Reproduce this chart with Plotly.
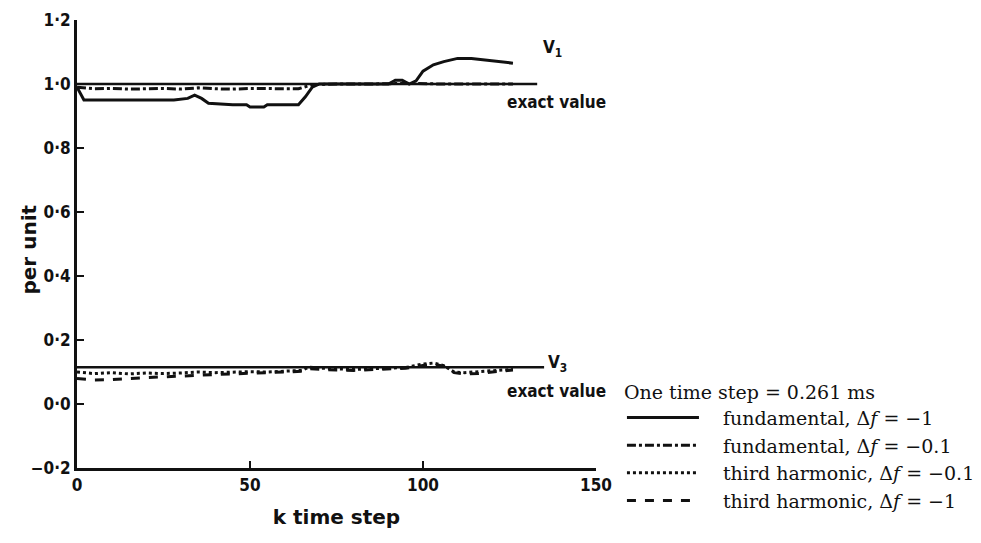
import plotly.graph_objects as go

# ---- data ----
k_v1_f1 = [0, 1, 2, 10, 20, 28, 32, 34, 36, 38, 45, 49, 50, 54, 55, 62, 64, 66, 68, 70, 80, 90, 92, 94, 96, 98, 100, 103, 106, 110, 114, 118, 122, 126]
v1_f1 = [0.99, 0.97, 0.95, 0.95, 0.95, 0.95, 0.955, 0.965, 0.955, 0.94, 0.935, 0.935, 0.928, 0.928, 0.935, 0.935, 0.935, 0.96, 0.99, 1.0, 1.0, 1.0, 1.012, 1.012, 1.0, 1.01, 1.04, 1.06, 1.07, 1.08, 1.08, 1.075, 1.07, 1.065]

k_v1_f01 = [0, 5, 10, 15, 20, 25, 30, 35, 40, 45, 50, 55, 60, 64, 68, 75, 85, 95, 105, 115, 126]
v1_f01 = [0.99, 0.985, 0.986, 0.984, 0.985, 0.986, 0.984, 0.988, 0.985, 0.984, 0.986, 0.985, 0.984, 0.985, 0.998, 1.0, 1.0, 1.002, 1.0, 1.0, 1.0]

k_v3_h01 = [0, 5, 10, 15, 20, 25, 30, 35, 40, 45, 50, 55, 60, 65, 67, 70, 75, 80, 85, 90, 95, 100, 103, 106, 109, 112, 116, 120, 126]
v3_h01 = [0.1, 0.095, 0.098, 0.094, 0.097, 0.095, 0.097, 0.1, 0.098, 0.1, 0.101, 0.1, 0.102, 0.105, 0.115, 0.112, 0.11, 0.108, 0.11, 0.112, 0.114, 0.125, 0.128, 0.12, 0.1, 0.098, 0.1, 0.104, 0.108]

k_v3_h1 = [0, 5, 10, 15, 20, 25, 30, 35, 40, 45, 50, 55, 60, 65, 67, 70, 75, 80, 85, 90, 95, 100, 103, 106, 109, 112, 116, 120, 126]
v3_h1 = [0.08, 0.075, 0.076, 0.078, 0.082, 0.085, 0.088, 0.09, 0.092, 0.094, 0.096, 0.098, 0.1, 0.102, 0.11, 0.108, 0.106, 0.105, 0.107, 0.11, 0.112, 0.12, 0.124, 0.118, 0.098, 0.094, 0.095, 0.1, 0.106]

k_exact_v1 = [0, 133]
exact_v1 = [1.0, 1.0]
k_exact_v3 = [0, 135]
exact_v3 = [0.115, 0.115]

ytick_vals = [-0.2, 0.0, 0.2, 0.4, 0.6, 0.8, 1.0, 1.2]
ytick_text = ["−0·2", "0·0", "0·2", "0·4", "0·6", "0·8", "1·0", "1·2"]
xtick_vals = [0, 50, 100, 150]

legend_title = "One time step = 0.261 ms"
names = ["fundamental, Δ<i>f</i> = −1", "fundamental, Δ<i>f</i> = −0.1",
         "third harmonic, Δ<i>f</i> = −0.1", "third harmonic, Δ<i>f</i> = −1"]

SANS_C = "DejaVu Sans Condensed, DejaVu Sans, sans-serif"
SANS = "DejaVu Sans, sans-serif"
SERIF = "DejaVu Serif, Liberation Serif, serif"
BLACK = "#111111"
GAP = "\u2003"

fig = go.Figure()
# exact values (solid, no legend)
fig.add_trace(go.Scatter(x=k_exact_v1, y=exact_v1, mode="lines", line=dict(color=BLACK, width=2.5), showlegend=False))
fig.add_trace(go.Scatter(x=k_exact_v3, y=exact_v3, mode="lines", line=dict(color=BLACK, width=2.5), showlegend=False))

fig.add_trace(go.Scatter(x=k_v1_f1, y=v1_f1, mode="lines", name=GAP + names[0], line=dict(color=BLACK, width=3)))
fig.add_trace(go.Scatter(x=k_v1_f01, y=v1_f01, mode="lines", name=GAP + names[1], line=dict(color=BLACK, width=3, dash="dashdot")))
fig.add_trace(go.Scatter(x=k_v3_h01, y=v3_h01, mode="lines", name=GAP + names[2], line=dict(color=BLACK, width=3, dash="dot")))
fig.add_trace(go.Scatter(x=k_v3_h1, y=v3_h1, mode="lines", name=GAP + names[3], line=dict(color=BLACK, width=3, dash="dash")))

ann_font = dict(family=SANS_C, size=17, color=BLACK, weight="bold")
fig.add_annotation(x=137.5, y=1.11, text="V<sub>1</sub>", showarrow=False, font=ann_font, xref="x", yref="y")
fig.add_annotation(x=138.5, y=0.945, text="exact value", showarrow=False, font=ann_font, xref="x", yref="y")
fig.add_annotation(x=139, y=0.128, text="V<sub>3</sub>", showarrow=False, font=ann_font, xref="x", yref="y")
fig.add_annotation(x=138.5, y=0.04, text="exact value", showarrow=False, font=ann_font, xref="x", yref="y")
fig.add_annotation(x=-0.12, y=0.487, xref="paper", yref="paper", text="per unit", textangle=-90,
                   showarrow=False, font=dict(family=SANS, size=20, color=BLACK, weight="bold"))

tickfont = dict(family=SANS_C, size=17, color=BLACK, weight="bold")
fig.update_xaxes(range=[0, 150], tickvals=xtick_vals, ticks="inside", ticklen=7, tickwidth=2,
                 tickcolor=BLACK, showline=True, linecolor=BLACK, linewidth=3, showgrid=False, zeroline=False,
                 tickfont=tickfont,
                 title=dict(text="k time step", font=dict(family=SANS, size=20, color=BLACK, weight="bold"), standoff=16))
fig.update_yaxes(range=[-0.2, 1.2], tickvals=ytick_vals, ticktext=ytick_text, ticks="inside", ticklen=7,
                 tickwidth=2, tickcolor=BLACK, showline=True, linecolor=BLACK, linewidth=3, showgrid=False,
                 zeroline=False, tickfont=tickfont)

fig.update_layout(
    width=981, height=543, autosize=False,
    margin=dict(l=77, r=385, t=20, b=75, autoexpand=False),
    plot_bgcolor="white", paper_bgcolor="white",
    legend=dict(title=dict(text=legend_title, font=dict(family=SERIF, size=19, color=BLACK)),
                font=dict(family=SERIF, size=19, color=BLACK),
                x=1.05, y=0.21, xanchor="left", yanchor="top", bgcolor="rgba(0,0,0,0)",
                itemwidth=72, tracegroupgap=0),
)

fig.write_html("out.html")
